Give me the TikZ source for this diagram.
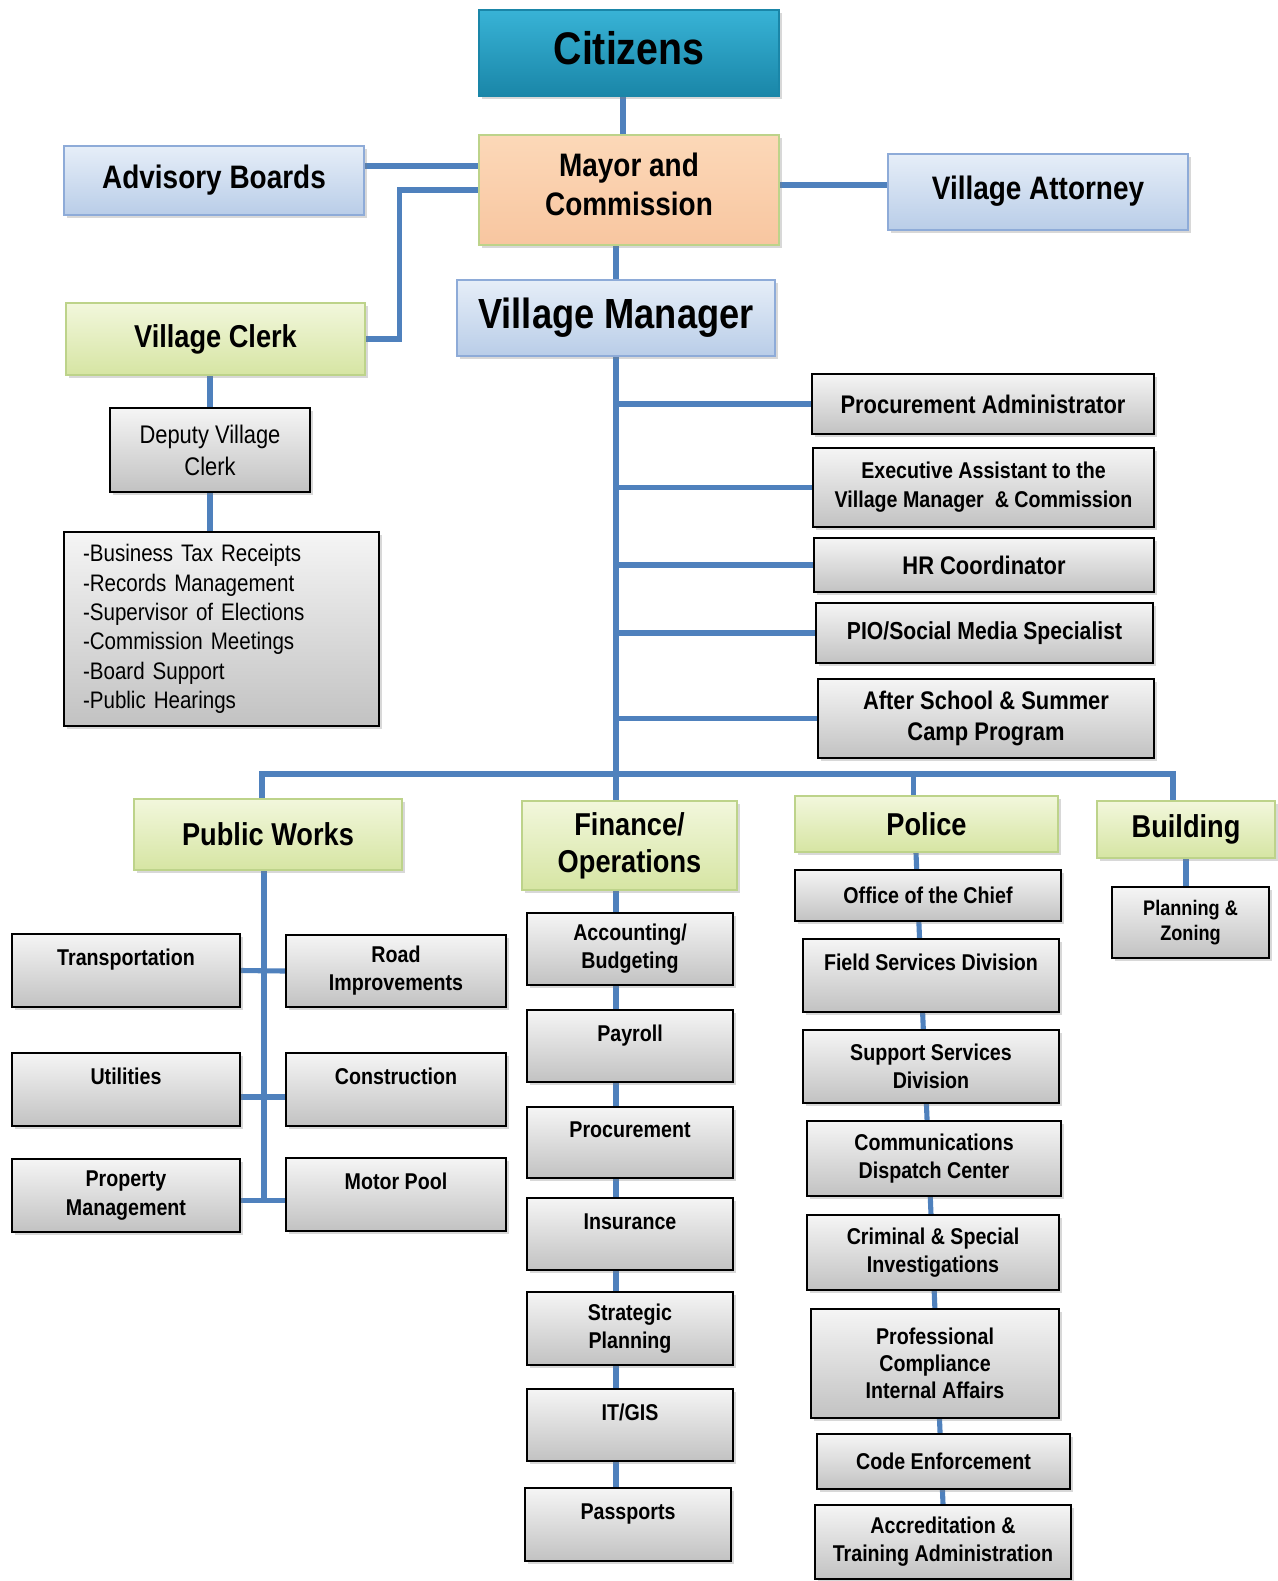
\documentclass[tikz,border=0pt]{standalone}
\usepackage{fontspec}
\setmainfont{Liberation Sans}[FakeStretch=0.86]
\usetikzlibrary{shadows,backgrounds}
\definecolor{linkblue}{HTML}{4F81BD}
\definecolor{bluetop}{HTML}{E6EEF8}
\definecolor{bluebot}{HTML}{B9CDE8}
\definecolor{blueline}{HTML}{8EABD8}
\definecolor{greentop}{HTML}{F2F7DC}
\definecolor{greenbot}{HTML}{D6E5A3}
\definecolor{greenline}{HTML}{BDD38A}
\definecolor{graytop}{HTML}{F5F5F5}
\definecolor{graybot}{HTML}{C2C2C2}
\definecolor{citytop}{HTML}{38B3D6}
\definecolor{citybot}{HTML}{1A86A8}
\definecolor{peachtop}{HTML}{FCD8B8}
\definecolor{peachbot}{HTML}{F8C6A0}

\begin{document}
\begin{tikzpicture}[x=0.02cm, y=-0.02cm]

\tikzset{
    sz/.style 2 args={minimum width=#1*0.02cm, minimum height=#2*0.02cm},
    unit/.style={
        draw,
        inner sep=1pt,
        align=center,
        drop shadow={shadow xshift=.06cm, shadow yshift=-.06cm, opacity=.3}
    },
    bluebox/.style={unit, draw=blueline, line width=1.2pt, top color=bluetop, bottom color=bluebot,
        font=\fontsize{18.5}{22}\selectfont\bfseries},
    greenbox/.style={unit, draw=greenline, line width=1.2pt, top color=greentop, bottom color=greenbot,
        font=\fontsize{18}{21}\selectfont\bfseries},
    graybox/.style={unit, draw=black, line width=1.3pt, top color=graytop, bottom color=graybot,
        font=\fontsize{13}{16}\selectfont\bfseries},
    staff/.style={graybox, font=\fontsize{14.5}{17.7}\selectfont\bfseries},
    uptext/.style={text height=0.35cm, text depth=0.54cm},
    link/.style={draw=linkblue, line width=2.9pt}
}

\useasboundingbox (0,0) rectangle (1277,1581);

\node[unit, draw=citybot, line width=1pt, top color=citytop, bottom color=citybot, sz={300}{86},
      font=\fontsize{26}{30}\selectfont\bfseries, text depth=0.2cm] (cit) at (629,53) {Citizens};
\node[unit, draw=greenline, line width=1.2pt, top color=peachtop, bottom color=peachbot, sz={300}{110},
      font=\fontsize{18.5}{22}\selectfont\bfseries, text depth=0.24cm] (may) at (629,190) {Mayor and\\Commission};
\node[bluebox, sz={300}{69}] (adv) at (214,180.5) {Advisory Boards};
\node[bluebox, sz={300}{76}, text depth=0.16cm] (att) at (1038,192) {Village Attorney};
\node[greenbox, sz={299}{72}] (clerk) at (215.5,339) {Village Clerk};
\node[bluebox, sz={318}{76}, font=\fontsize{24}{28}\selectfont\bfseries] (vm) at (616,318) {Village Manager};

\node[graybox, sz={200}{84}, font=\fontsize{14.5}{18.3}\selectfont] (dep) at (210,450) {Deputy Village\\Clerk};
\node[graybox, sz={315}{194}, text width=5.54cm, inner xsep=0.38cm, align=left,
      font=\fontsize{13.6}{16.7}\selectfont] (dut) at (221.5,629)
      {-Business Tax Receipts\\-Records Management\\-Supervisor of Elections\\-Commission Meetings\\-Board Support\\-Public Hearings};

\node[staff, sz={342}{60}] (pa) at (983,404) {Procurement Administrator};
\node[staff, sz={341}{79}, font=\fontsize{13}{16.6}\selectfont\bfseries] (ea) at (983.5,487.5) {Executive Assistant to the\\Village Manager~~\& Commission};
\node[staff, sz={340}{54}] (hr) at (984,565) {HR Coordinator};
\node[staff, sz={337}{60}, font=\fontsize{14}{17}\selectfont\bfseries] (pio) at (984.5,633) {PIO/Social Media Specialist};
\node[staff, sz={336}{79}] (asp) at (986,718.5) {After School \& Summer\\Camp Program};

\node[greenbox, sz={268}{71}] (pw) at (268,834.5) {Public Works};
\node[greenbox, sz={215}{89}] (fin) at (629.5,845.5) {Finance/\\Operations};
\node[greenbox, sz={263}{56}] (pol) at (926.5,824) {Police};
\node[greenbox, sz={178}{57}] (bld) at (1186,829.5) {Building};

\node[graybox, sz={228}{73}, uptext] (trn) at (126,970.5) {Transportation};
\node[graybox, sz={220}{72}] (road) at (396,971) {Road\\Improvements};
\node[graybox, sz={228}{73}, uptext] (utl) at (126,1089.5) {Utilities};
\node[graybox, sz={220}{73}, uptext] (con) at (396,1089.5) {Construction};
\node[graybox, sz={228}{73}] (prop) at (126,1195.5) {Property\\Management};
\node[graybox, sz={220}{73}, uptext] (mot) at (396,1194.5) {Motor Pool};

\node[graybox, sz={206}{72}] (acc) at (630,949) {Accounting/\\Budgeting};
\node[graybox, sz={206}{72}, uptext] (pay) at (630,1046) {Payroll};
\node[graybox, sz={206}{71}, uptext] (proc) at (630,1142.5) {Procurement};
\node[graybox, sz={206}{72}, uptext] (ins) at (630,1234) {Insurance};
\node[graybox, sz={206}{73}] (strat) at (630,1328.5) {Strategic\\Planning};
\node[graybox, sz={206}{72}, uptext] (it) at (630,1425) {IT/GIS};
\node[graybox, sz={206}{73}, uptext] (pass) at (628,1524.5) {Passports};

\node[graybox, sz={266}{51}] (chief) at (928,895.5) {Office of the Chief};
\node[graybox, sz={256}{73}, uptext] (fsd) at (931,975.5) {Field Services Division};
\node[graybox, sz={256}{73}] (ssd) at (931,1066.5) {Support Services\\Division};
\node[graybox, sz={254}{75}] (cdc) at (934,1158.5) {Communications\\Dispatch Center};
\node[graybox, sz={252}{75}] (csi) at (933,1252.5) {Criminal \& Special\\Investigations};
\node[graybox, sz={248}{109}, font=\fontsize{13}{15.5}\selectfont\bfseries] (pci) at (935,1363.5) {Professional\\Compliance\\Internal Affairs};
\node[graybox, sz={253}{55}] (code) at (943.5,1461.5) {Code Enforcement};
\node[graybox, sz={256}{74}] (acr) at (943,1542) {Accreditation \&\\Training Administration};

\node[graybox, sz={157}{71}, font=\fontsize{12}{14.3}\selectfont\bfseries] (pz) at (1190.5,922.5) {Planning \&\\Zoning};

\begin{scope}[on background layer]
\fill[white] (0,0) rectangle (1277,1581);
\draw[link] ([xshift=-.12cm]cit.south) -- ([xshift=-.12cm]cit.south |- may.north);
\draw[link] ([yshift=.29cm]adv.east) -- ([yshift=.29cm]adv.east -| may.west);
\draw[link] (may.west) -| ([xshift=.66cm]clerk.east) -- (clerk.east);
\draw[link] ([yshift=.14cm]att.west) -- ([yshift=.14cm]att.west -| may.east);
\draw[link] (vm.north) -- (vm.north |- may.south);
\draw[link] (dep.north) -- (dep.north |- clerk.south);
\draw[link] (dep.south) -- (dep.south |- dut.north);

\draw[link] (vm.south) -- (vm.south |- fin.north);
\draw[link] (vm.south |- pa.west) -- (pa.west);
\draw[link] (vm.south |- ea.west) -- (ea.west);
\draw[link] (vm.south |- hr.west) -- (hr.west);
\draw[link] (vm.south |- pio.west) -- (pio.west);
\draw[link] (vm.south |- asp.west) -- (asp.west);

\coordinate (bus) at (617,774);
\draw[link] ([xshift=-.12cm]pw.north) |- (bus) -| ([xshift=-.26cm]bld.north);
\draw[link] ([xshift=-.26cm]pol.north) -- ([xshift=-.26cm]pol.north |- bus);

\draw[link] ([xshift=-.08cm]pw.south) -- ([xshift=-.08cm,yshift=-.1cm]pw.south |- prop.east);
\draw[link] (trn.east) -- (road.west);
\draw[link] ([yshift=-.15cm]utl.east) -- ([yshift=-.15cm]utl.east -| con.west);
\draw[link] ([yshift=-.1cm]prop.east) -- ([yshift=-.1cm]prop.east -| mot.west);

\draw[link] (vm.south |- fin.south) -- (vm.south |- pass.north);
\draw[link] ([xshift=-.21cm]pol.south) -- (acr.north);
\draw[link] (bld.south) -- (bld.south |- pz.north);
\end{scope}

\end{tikzpicture}
\end{document}
